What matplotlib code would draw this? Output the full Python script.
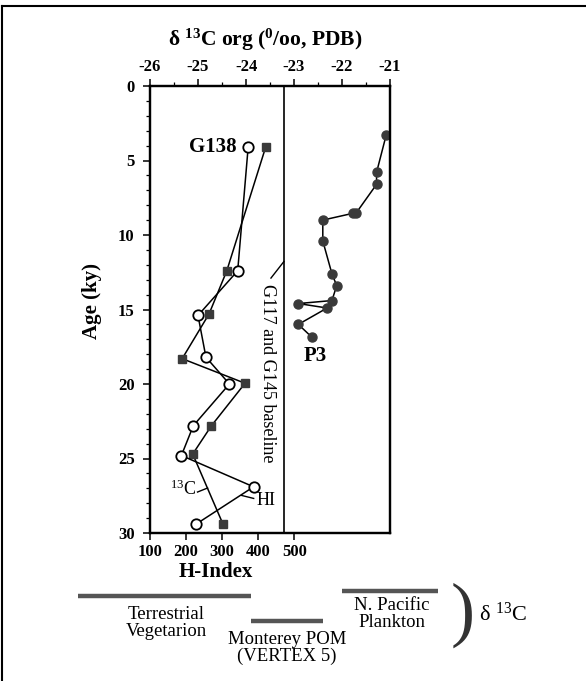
import matplotlib
matplotlib.use("Agg")
import matplotlib.pyplot as plt
from matplotlib.lines import Line2D
from matplotlib.transforms import blended_transform_factory

W, H = 586, 681

# G138: delta13C of organic carbon (filled squares, top axis)
g138_c13_age = [4.1, 12.4, 15.3, 18.3, 19.95, 22.8, 24.7, 29.4]
g138_c13 = [-23.59, -24.40, -24.77, -25.33, -24.02, -24.72, -25.11, -24.48]

# G138: hydrogen index (open circles, bottom axis)
g138_hi_age = [4.1, 12.4, 15.4, 18.2, 20.0, 22.8, 24.8, 26.9, 29.4]
g138_hi = [372, 343, 233, 255, 320, 220, 187, 387, 228]

# P3: delta13C (filled circles, top axis)
p3_age = [3.3, 5.8, 6.6, 8.5, 8.55, 9.0, 10.4, 12.6, 13.4, 14.4, 14.6, 14.9, 16.0, 16.85]
p3_c13 = [-21.08, -21.28, -21.28, -21.70, -21.78, -22.40, -22.40,
          -22.21, -22.11, -22.21, -22.91, -22.31, -22.91, -22.63]

# G117 / G145 baseline
baseline_c13 = -23.21

# end-member delta13C ranges shown under the plot
source_names = ["Terrestrial\nVegetarion", "Monterey POM\n(VERTEX 5)", "N. Pacific\nPlankton"]
source_ranges = [(-27.5, -23.9), (-23.9, -22.4), (-22.0, -20.0)]

c13_ticks = [-26, -25, -24, -23, -22, -21]
c13_minor = [-25.5, -24.5, -23.5, -22.5, -21.5]
hi_ticks = [100, 200, 300, 400, 500]
age_ticks = [0, 5, 10, 15, 20, 25, 30]
age_minor = list(range(0, 31))


def fx(px):
    return px / W


def fy(py):
    return 1 - py / H


plt.rcParams["font.family"] = ["Liberation Serif", "DejaVu Serif"]
plt.rcParams["font.weight"] = "bold"
plt.rcParams["mathtext.default"] = "regular"

fig = plt.figure(figsize=(W / 100, H / 100), dpi=100)
ax = fig.add_axes([fx(150), fy(533), 240 / W, 447 / H])
ax2 = ax.twiny()

# delta13C axis (top)
ax.set_xlim(-26, -21)
ax.set_ylim(30, 0)
ax.xaxis.tick_top()
ax.set_xticks(c13_ticks)
ax.set_xticklabels([str(t) for t in c13_ticks])
ax.set_xticks(c13_minor, minor=True)
ax.set_yticks(age_ticks)
ax.set_yticks(age_minor, minor=True)
ax.tick_params(axis="both", which="major", labelsize=12, length=5, width=1.1, pad=3)
ax.tick_params(axis="both", which="minor", length=3, width=0.9)
ax.tick_params(axis="y", pad=6)
for s in ax.spines.values():
    s.set_linewidth(1.6)

ax.axvline(baseline_c13, color="black", lw=1.2)

ax.plot(g138_c13, g138_c13_age, color="black", lw=1.1, marker="s", ms=5.8,
        mfc="#3a3a3a", mec="#3a3a3a", zorder=3)
ax.plot(p3_c13, p3_age, color="black", lw=1.1, marker="o", ms=6.5,
        mfc="#3a3a3a", mec="#3a3a3a", zorder=3)

ax.set_ylabel("Age (ky)", fontsize=15, fontweight="bold")
ax.yaxis.set_label_coords(-0.2, 0.52)

# H-Index axis (bottom)
ax2.set_xlim(100, 765)
ax2.xaxis.tick_bottom()
ax2.xaxis.set_label_position("bottom")
ax2.set_xticks(hi_ticks)
ax2.tick_params(axis="x", labelsize=12, length=5, width=1.1, pad=3)
for s in ax2.spines.values():
    s.set_linewidth(1.6)
ax2.plot(g138_hi, g138_hi_age, color="black", lw=1.1, marker="o", ms=7.5,
         mfc="white", mec="black", mew=1.3, zorder=3)
ax2.set_xlabel("H-Index", fontsize=15, fontweight="bold")
ax2.xaxis.set_label_coords(0.275, -0.064)

# annotations
ax.text(-24.2, 4.1, "G138", fontsize=15, ha="right", va="center")
ax.text(-22.55, 18.1, "P3", fontsize=15, ha="center", va="center")
ax.text(-23.55, 19.3, "G117 and G145 baseline", fontsize=13, fontweight="normal",
        rotation=-90, ha="center", va="center")
ax.plot([-23.21, -23.48], [11.78, 12.89], color="black", lw=1.0)
ax.text(-25.03, 27.05, "$^{13}$C", fontsize=13, fontweight="normal", ha="right", va="center")
ax.plot([-25.01, -24.80], [27.25, 26.98], color="black", lw=1.0)
ax.text(-23.79, 27.85, "HI", fontsize=13, fontweight="normal", ha="left", va="center")
ax.plot([-24.09, -23.84], [27.48, 27.68], color="black", lw=1.0)

fig.text(fx(265), fy(40), "δ $^{13}$C org ($^{0}$/oo, PDB)", fontsize=15.5,
         ha="center", va="center")

# end-member bars below the axes, on the delta13C scale
trans = blended_transform_factory(ax.transData, fig.transFigure)
bar_y = [596, 621, 591]
text_xy = [(166, 623), (287, 648), (392, 614)]
for (x0, x1), ypx, name, (tx, ty) in zip(source_ranges, bar_y, source_names, text_xy):
    ax.plot([x0, x1], [fy(ypx), fy(ypx)], transform=trans, color="#555555", lw=3.2,
            solid_capstyle="butt", clip_on=False)
    fig.text(fx(tx), fy(ty), name, fontsize=13.5, fontweight="normal", ha="center",
             va="center", linespacing=1.05)

fig.text(fx(463), fy(615), ")", fontsize=52, fontweight="normal", color="#333333",
         ha="center", va="center")
fig.text(fx(503), fy(614), "δ $^{13}$C", fontsize=16, fontweight="normal",
         ha="center", va="center")

# frame lines of the original page
fig.add_artist(Line2D([fx(2), fx(2)], [0, fy(6)], transform=fig.transFigure,
                      color="black", lw=1.5))
fig.add_artist(Line2D([fx(2), 1], [fy(6), fy(6)], transform=fig.transFigure,
                      color="black", lw=1.5))

fig.savefig("out.png", dpi=100)
